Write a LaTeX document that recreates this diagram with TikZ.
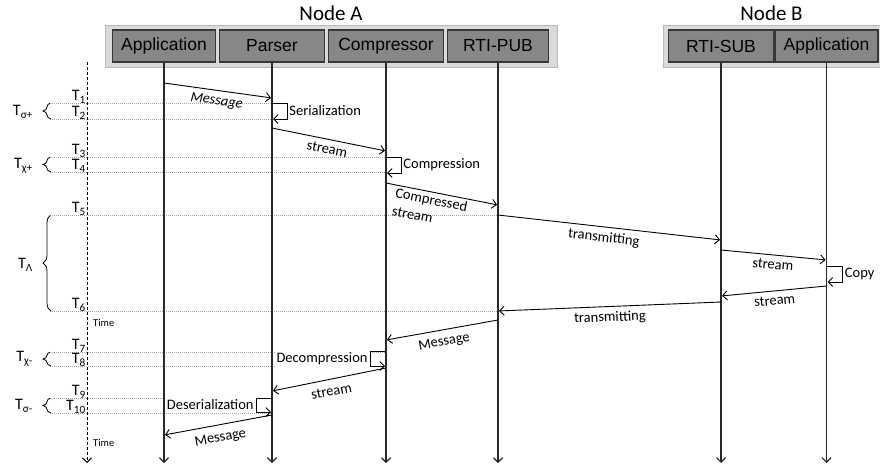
\documentclass[tikz,border=0pt]{standalone}
\usepackage{fontspec}
\setmainfont{Carlito}
\newfontfamily\boxfont{Liberation Sans}
\usetikzlibrary{arrows.meta,positioning,decorations.pathreplacing}
\definecolor{boxgray}{RGB}{135,135,135}
\definecolor{boxedge}{RGB}{55,55,55}
\definecolor{panelgray}{RGB}{218,218,218}
\definecolor{paneledge}{RGB}{185,185,185}
\definecolor{dotgray}{RGB}{165,165,165}
\definecolor{lifegray}{RGB}{40,40,40}

\begin{document}
\begin{tikzpicture}[x=1pt,y=-1pt,>={Straight Barb[length=4.5pt,width=9pt]},
                    shorten >=1pt,
                    panel/.style={draw=paneledge,fill=panelgray,line width=1pt,
                                  minimum height=42pt,inner sep=0pt},
                    comp/.style={draw=boxedge,fill=boxgray,line width=1.4pt,
                                 minimum height=32pt,inner sep=0pt,
                                 font=\boxfont\fontsize{17.5}{19}\selectfont},
                    title/.style={font=\fontsize{21}{23}\selectfont},
                    life/.style={->,draw=lifegray,line width=1.2pt},
                    msg/.style={->,line width=0.9pt},
                    lbl/.style={font=\fontsize{14.5}{16}\selectfont,inner sep=2pt},
                    msglbl/.style={lbl,below,sloped,inner sep=4.5pt},
                    tline/.style={draw=dotgray,line width=1pt,dash pattern=on 1pt off 1pt},
                    tlbl/.style={font=\fontsize{16}{18}\selectfont,inner sep=0pt,anchor=base east},
                    tbrace/.style={decorate,decoration={brace,amplitude=8pt},line width=0.8pt},
                    timelbl/.style={font=\fontsize{10.5}{12}\selectfont,anchor=west,inner sep=0pt}]

  \useasboundingbox (0,0) rectangle (880,474);

  % node A and node B
  \node[panel,minimum width=452pt] (panelA) at (331,46) {};
  \node[panel,minimum width=217pt] (panelB) at (771.5,46) {};
  \node[title] (titleA) [above=0pt of panelA] {Node A};
  \node[title] (titleB) [above=0pt of panelB] {Node B};

  \node[comp,minimum width=103pt] (appA)   at (164,46)   {Application};
  \node[comp,minimum width=105pt] (parser) at (272,46)   {Parser};
  \node[comp,minimum width=115pt] (compr)  at (386,46)   {Compressor};
  \node[comp,minimum width=101pt] (rtipub) at (498,46)   {RTI-PUB};
  \node[comp,minimum width=105pt] (rtisub) at (721,46)   {RTI-SUB};
  \node[comp,minimum width=103pt] (appB)   at (826.5,46) {Application};

  % time stamps
  \foreach \y/\n/\t in {103/parser/1,119/parser/2,157/compr/3,172/compr/4,
                        215/rtipub/5,311/rtipub/6,352/compr/7,366/compr/8,
                        398/parser/9,413/parser/10}
  {
    \draw[tline] (50,\y) -- (\n |- 0,\y);
    \node[tlbl] at (86,\y-2.5) {T\textsubscript{\t}};
  }

  \draw[tbrace] (51,119) -- (51,103);
  \draw[tbrace] (51,172) -- (51,157);
  \draw[tbrace] (51,311) -- (51,215);
  \draw[tbrace] (51,366) -- (51,352);
  \draw[tbrace] (51,413) -- (51,398);
  \node[tlbl,anchor=east] (tsp) at (33,112) {T\textsubscript{σ+}};
  \node[tlbl,anchor=east] (tcp) at (33,166) {T\textsubscript{χ+}};
  \node[tlbl,anchor=east] (tla) at (33,265) {T\textsubscript{Λ}};
  \node[tlbl,anchor=east] (tcm) at (33,359) {T\textsubscript{χ-}};
  \node[tlbl,anchor=east] (tsm) at (33,406) {T\textsubscript{σ-}};

  % time axis and life lines
  \coordinate (tstart) at (87,62);
  \coordinate (tend)   at (87,464);
  \draw[->,line width=1pt,dash pattern=on 3pt off 2pt] (tstart) -- (tend);
  \node[timelbl] (time1) at (93,323) {Time};
  \node[timelbl] (time2) at (93,443) {Time};

  \foreach \n in {appA,parser,compr,rtipub,rtisub,appB}
    \draw[life] (\n.south) -- (\n |- 0,464);

  % messages
  \path (appA |- 0,83)    edge[msg] node[msglbl,font=\fontsize{14.5}{16}\selectfont\itshape] {Message} (parser |- 0,98)
        (parser |- 0,128) edge[msg] node[msglbl] {stream} (compr |- 0,151)
        (compr |- 0,183)  edge[msg] node[msglbl,align=left,pos=0.42,inner sep=2pt,
                                         font=\fontsize{14.5}{18}\selectfont] {Compressed\\stream} (rtipub |- 0,205)
        (rtipub |- 0,215) edge[msg] node[msglbl,pos=0.48] {transmitting} (rtisub |- 0,240)
        (rtisub |- 0,250) edge[msg] node[msglbl] {stream} (appB |- 0,260)
        (appB |- 0,286)   edge[msg] node[msglbl] {stream} (rtisub |- 0,296)
        (rtisub |- 0,302) edge[msg] node[msglbl,pos=0.5] {transmitting} (rtipub |- 0,311)
        (rtipub |- 0,320) edge[msg] node[msglbl,inner sep=6pt] {Message} (compr |- 0,340)
        (compr |- 0,368)  edge[msg] node[msglbl,inner sep=7pt] {stream} (parser |- 0,391)
        (parser |- 0,415) edge[msg] node[msglbl,inner sep=7pt] {Message} (appA |- 0,435);

  % processing steps
  \draw[msg] (parser |- 0,103) -- ++(15,0) -- node[lbl,right] {Serialization} ++(0,16) -- ++(-15,0);
  \draw[msg] (compr |- 0,157) -- ++(15,0) -- node[lbl,right] {Compression} ++(0,16) -- ++(-15,0);
  \draw[msg] (appB |- 0,266) -- ++(16,0) -- node[lbl,right] {Copy} ++(0,16) -- ++(-16,0);
  \draw[msg] (compr |- 0,351) -- ++(-16,0) -- node[lbl,left,fill=white] {Decompression} ++(0,15) -- ++(16,0);
  \draw[msg] (parser |- 0,398) -- ++(-16,0) -- node[lbl,left,fill=white] {Deserialization} ++(0,14) -- ++(16,0);
\end{tikzpicture}
\end{document}
